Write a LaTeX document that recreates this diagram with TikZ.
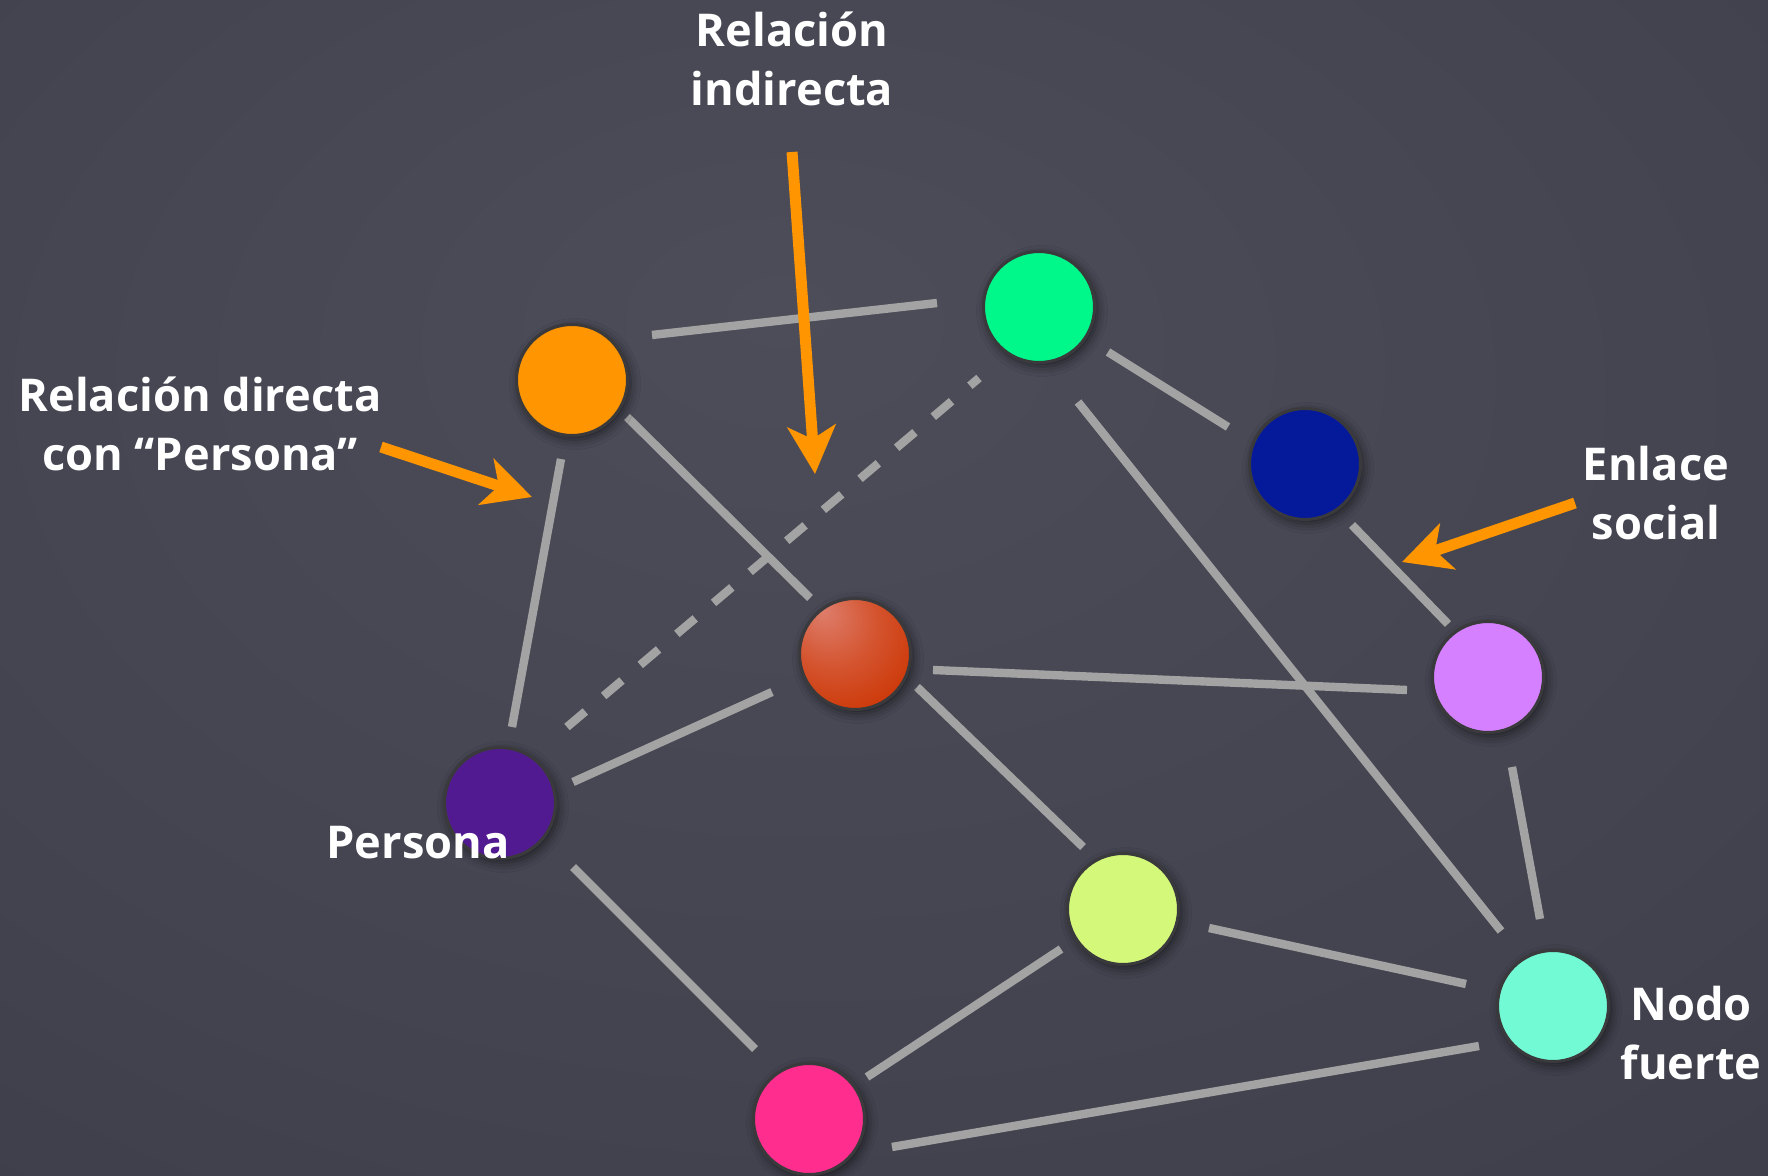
\documentclass[tikz,border=0pt]{standalone}
\usepackage{fontspec}
\setmainfont{Open Sans}
\usetikzlibrary{shadows.blur,arrows.meta}
\definecolor{bgC}{HTML}{4C4D59}
\definecolor{bgM}{HTML}{42434F}
\definecolor{bgE}{HTML}{2F303B}
\definecolor{edgec}{HTML}{A3A3A3}
\definecolor{ringc}{HTML}{3A3A3C}
\definecolor{arrowc}{HTML}{FF9500}
\definecolor{cOrange}{HTML}{FF9500}
\definecolor{cGreen}{HTML}{00F78A}
\definecolor{cBlue}{HTML}{051A9A}
\definecolor{cViolet}{HTML}{D580FF}
\definecolor{cPurple}{HTML}{521A91}
\definecolor{cYellow}{HTML}{D4F97A}
\definecolor{cCyan}{HTML}{72FAD4}
\definecolor{cPink}{HTML}{FF2E8E}
\definecolor{rbA}{HTML}{DE7E6C}
\definecolor{rbB}{HTML}{D4542F}
\definecolor{rbC}{HTML}{CB3300}
\definecolor{rbD}{HTML}{A02300}
\pgfdeclareradialshading{bgshade}{\pgfpoint{-3bp}{12bp}}{color(0bp)=(bgC); color(30bp)=(bgM); color(75bp)=(bgE)}
\pgfdeclareradialshading{redball}{\pgfpoint{-15bp}{20bp}}{color(0bp)=(rbA); color(20bp)=(rbB); color(40bp)=(rbC); color(64bp)=(rbD)}
\tikzset{
  ball/.style={circle, minimum size=55.5pt, inner sep=0pt, draw=ringc, line width=1.5pt,
    blur shadow={shadow xshift=1.5pt, shadow yshift=-2pt, shadow blur radius=5pt, shadow opacity=55}},
  edge/.style={draw=edgec, line width=4.2pt},
  dashedge/.style={edge, dash pattern=on 12pt off 12pt},
  pointer/.style={draw=arrowc, line width=5.5pt, -{Stealth[length=24pt, width=24pt, inset=6.5pt]}},
  label/.style={text=white, font=\bfseries\fontsize{22.6pt}{29.5pt}\selectfont, align=center, inner sep=0pt}
}
\begin{document}
\begin{tikzpicture}[x=0.5pt,y=-0.5pt]
\useasboundingbox (0,0) rectangle (1768,1176);
\path[shading=bgshade] (0,0) rectangle (1768,1176);

\path
  (572,380)  coordinate (pO)
  (1039,307) coordinate (pG)
  (1305,464) coordinate (pB)
  (855,654)  coordinate (pR)
  (1488,677) coordinate (pV)
  (500,803)  coordinate (pP)
  (1123,909) coordinate (pY)
  (1553,1006) coordinate (pC)
  (809,1119) coordinate (pK);

% edges
\draw[edge] ([shift={(80,-45)}]pO) -- ([shift={(-102,-4)}]pG);
\draw[edge] ([shift={(69,45)}]pG) -- ([shift={(-77,-37)}]pB);
\draw[edge] ([shift={(39,95)}]pG) -- ([shift={(-52,-75)}]pC);
\draw[edge] ([shift={(47,61)}]pB) -- ([shift={(-40,-53)}]pV);
\draw[edge] ([shift={(24,90)}]pV) -- ([shift={(-13,-87)}]pC);
\draw[edge] ([shift={(55,37)}]pO) -- ([shift={(-45,-56)}]pR);
\draw[edge] ([shift={(-11,79)}]pO) -- ([shift={(12,-76)}]pP);
\draw[dashedge] ([shift={(67,-76)}]pP) -- ([shift={(-60,71)}]pG);
\draw[edge] ([shift={(78,16)}]pR) -- ([shift={(-81,13)}]pV);
\draw[edge] ([shift={(-83,38)}]pR) -- ([shift={(73,-21)}]pP);
\draw[edge] ([shift={(62,33)}]pR) -- ([shift={(-40,-62)}]pY);
\draw[edge] ([shift={(73,64)}]pP) -- ([shift={(-54,-70)}]pK);
\draw[edge] ([shift={(-62,40)}]pY) -- ([shift={(58,-42)}]pK);
\draw[edge] ([shift={(86,19)}]pY) -- ([shift={(-87,-22)}]pC);
\draw[edge] ([shift={(83,28)}]pK) -- ([shift={(-74,40)}]pC);

% balls
\node[ball, fill=cOrange] (orange) at (pO) {};
\node[ball, fill=cGreen]  (green)  at (pG) {};
\node[ball, fill=cBlue]   (blue)   at (pB) {};
\node[ball, shading=redball] (red) at (pR) {};
\node[ball, fill=cViolet] (violet) at (pV) {};
\node[ball, fill=cPurple] (persona) at (pP) {};
\node[ball, fill=cYellow] (yellow) at (pY) {};
\node[ball, fill=cCyan]   (fuerte) at (pC) {};
\node[ball, fill=cPink]   (pink)   at (pK) {};

% labels (anchor = baseline of last line)
\node[label, anchor=base] (tIndirecta) at (792,106) {Relación\\indirecta};
\node[label, anchor=base] (tDirecta) at (200,471) {Relación directa\\con “Persona”};
\node[label, anchor=base] (tEnlace) at (1656,540) {Enlace\\social};
\node[label, anchor=base] (tFuerte) at (1691,1079) {Nodo\\fuerte};
\node[label, anchor=base] (tPersona) at (418,858) {Persona};

% pointers
\coordinate (aI1) at (792,152);  \coordinate (aI2) at (815,474);
\coordinate (aD1) at (381,447);  \coordinate (aD2) at (532,497);
\coordinate (aE1) at (1575,503); \coordinate (aE2) at (1402,562);
\draw[pointer] (aI1) -- (aI2);
\draw[pointer] (aD1) -- (aD2);
\draw[pointer] (aE1) -- (aE2);
\end{tikzpicture}
\end{document}
